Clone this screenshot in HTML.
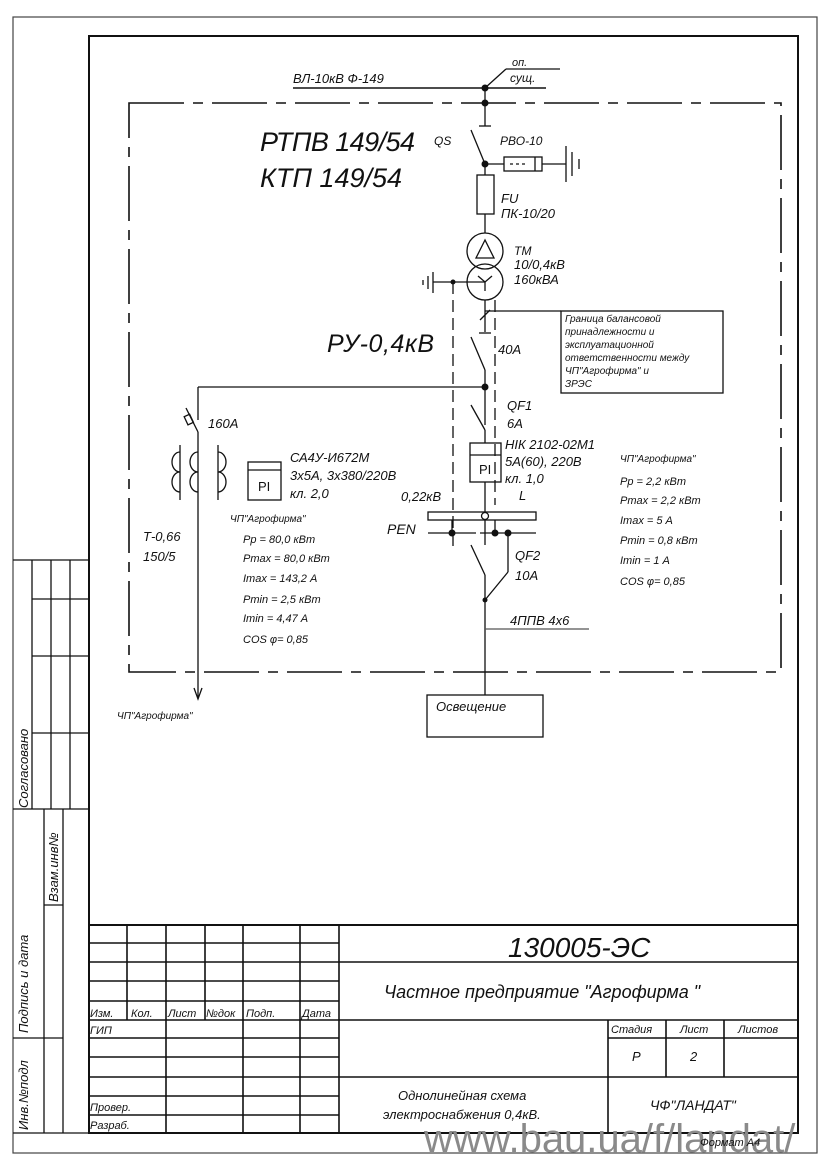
<!DOCTYPE html>
<html><head><meta charset="utf-8"><style>
html,body{margin:0;padding:0;background:#fff}
svg{display:block}
text{font-family:"Liberation Sans","DejaVu Sans",sans-serif;font-style:italic;fill:#111}
text.n{font-style:normal}
</style></head><body>
<svg width="828" height="1172" viewBox="0 0 828 1172" xmlns="http://www.w3.org/2000/svg">
<g stroke="#111" fill="none" stroke-width="1.3">
<rect x="13" y="17" width="804" height="1136" stroke="#444" stroke-width="1.2"/>
<rect x="89" y="36" width="709" height="1097" stroke-width="2"/>
<line x1="13" y1="560" x2="89" y2="560"/>
<line x1="32" y1="560" x2="32" y2="809"/>
<line x1="51" y1="560" x2="51" y2="809"/>
<line x1="70" y1="560" x2="70" y2="809"/>
<line x1="32" y1="599" x2="89" y2="599"/>
<line x1="32" y1="656" x2="89" y2="656"/>
<line x1="32" y1="733" x2="89" y2="733"/>
<line x1="13" y1="809" x2="89" y2="809"/>
<line x1="44" y1="809" x2="44" y2="1133"/>
<line x1="63" y1="809" x2="63" y2="1133"/>
<line x1="44" y1="905" x2="63" y2="905"/>
<line x1="13" y1="1038" x2="63" y2="1038"/>
<line x1="13" y1="1133" x2="89" y2="1133"/>
<line x1="89" y1="925" x2="798" y2="925" stroke-width="2"/>
<g stroke-width="1.6">
<line x1="89" y1="943" x2="339" y2="943"/>
<line x1="89" y1="962" x2="798" y2="962"/>
<line x1="89" y1="981" x2="339" y2="981"/>
<line x1="89" y1="1001" x2="339" y2="1001"/>
<line x1="89" y1="1020" x2="798" y2="1020"/>
<line x1="89" y1="1038" x2="339" y2="1038"/>
<line x1="608" y1="1038" x2="798" y2="1038"/>
<line x1="89" y1="1057" x2="339" y2="1057"/>
<line x1="89" y1="1077" x2="798" y2="1077"/>
<line x1="89" y1="1096" x2="339" y2="1096"/>
<line x1="89" y1="1115" x2="339" y2="1115"/>
<line x1="127" y1="925" x2="127" y2="1020"/>
<line x1="166" y1="925" x2="166" y2="1133"/>
<line x1="205" y1="925" x2="205" y2="1020"/>
<line x1="243" y1="925" x2="243" y2="1133"/>
<line x1="300" y1="925" x2="300" y2="1133"/>
<line x1="339" y1="925" x2="339" y2="1133"/>
<line x1="608" y1="1020" x2="608" y2="1133"/>
<line x1="666" y1="1020" x2="666" y2="1077"/>
<line x1="724" y1="1020" x2="724" y2="1077"/>
</g>
<rect x="129" y="103" width="652" height="569" stroke-width="1.6" stroke-dasharray="55 9 10 9"/>
<line x1="293" y1="88" x2="546" y2="88" stroke-width="1.6"/>
<line x1="485" y1="88" x2="506" y2="69"/>
<line x1="506" y1="69" x2="560" y2="69"/>
<line x1="485" y1="88" x2="485" y2="126"/>
<line x1="479" y1="126" x2="491" y2="126"/>
<line x1="471" y1="130" x2="485" y2="164"/>
<line x1="485" y1="164" x2="485" y2="175"/>
<line x1="485" y1="164" x2="504" y2="164"/>
<rect x="504" y="157" width="38" height="14"/>
<line x1="535" y1="157" x2="535" y2="171"/>
<line x1="510" y1="164" x2="528" y2="164" stroke-dasharray="3 3"/>
<line x1="542" y1="164" x2="566" y2="164"/>
<line x1="566" y1="146" x2="566" y2="182"/>
<line x1="572" y1="152" x2="572" y2="176"/>
<line x1="579" y1="159" x2="579" y2="169"/>
<rect x="477" y="175" width="17" height="39"/>
<line x1="485" y1="214" x2="485" y2="233"/>
<circle cx="485" cy="251" r="18"/>
<circle cx="485" cy="282" r="18"/>
<polygon points="485,240 476,258 494,258"/>
<line x1="485" y1="282" x2="485" y2="291"/><line x1="485" y1="282" x2="478" y2="276"/><line x1="485" y1="282" x2="492" y2="276"/>
<line x1="433" y1="282" x2="485" y2="282"/>
<line x1="433" y1="272" x2="433" y2="293"/><line x1="428" y1="276" x2="428" y2="289"/><line x1="423" y1="280" x2="423" y2="285"/>
<line x1="453" y1="282" x2="453" y2="548" stroke-dasharray="12 6"/>
<line x1="495" y1="300" x2="495" y2="505" stroke-dasharray="12 6"/>
<line x1="485" y1="300" x2="485" y2="332"/>
<line x1="480" y1="320" x2="490" y2="310"/>
<line x1="485" y1="311" x2="561" y2="311"/>
<rect x="561" y="311" width="162" height="82"/>
<line x1="479" y1="333" x2="491" y2="333"/>
<line x1="471" y1="337" x2="485" y2="370"/>
<line x1="485" y1="370" x2="485" y2="425"/>
<line x1="198" y1="387" x2="485" y2="387"/>
<line x1="198" y1="387" x2="198" y2="420"/>
<line x1="186" y1="408" x2="198" y2="432"/>
<rect x="186" y="415" width="6" height="9" transform="rotate(-25 189 420)"/>
<line x1="198" y1="432" x2="198" y2="697"/>
<polyline points="194,688 198,699 202,688"/>
<line x1="180" y1="445" x2="180" y2="500"/>
<line x1="218" y1="445" x2="218" y2="500"/>
<path d="M180 452 a8 10 0 0 0 0 20 a8 10 0 0 0 0 20"/>
<path d="M198 452 a8 10 0 0 0 0 20 a8 10 0 0 0 0 20"/>
<path d="M218 452 a8 10 0 0 1 0 20 a8 10 0 0 1 0 20"/>
<rect x="248" y="462" width="33" height="38"/>
<line x1="248" y1="470" x2="281" y2="470"/>
<line x1="471" y1="405" x2="485" y2="430"/>
<line x1="485" y1="430" x2="485" y2="443"/>
<rect x="470" y="443" width="31" height="39"/>
<line x1="470" y1="455" x2="501" y2="455"/>
<line x1="485" y1="482" x2="485" y2="512"/>
<rect x="428" y="512" width="108" height="8"/>
<circle cx="485" cy="516" r="3.5" fill="#fff"/>
<line x1="428" y1="533" x2="476" y2="533"/>
<line x1="480" y1="533" x2="536" y2="533"/>
<line x1="452" y1="520" x2="452" y2="533"/>
<line x1="495" y1="520" x2="495" y2="533"/>
<line x1="485" y1="520" x2="485" y2="545"/>
<line x1="508" y1="533" x2="508" y2="572"/>
<line x1="508" y1="572" x2="485" y2="600"/>
<line x1="471" y1="545" x2="485" y2="575"/>
<line x1="485" y1="575" x2="485" y2="695"/>
<line x1="485" y1="629" x2="589" y2="629" stroke="#555"/>
<rect x="427" y="695" width="116" height="42"/>
</g>
<g fill="#111">
<circle cx="485" cy="88" r="3.5"/><circle cx="485" cy="103" r="3.5"/><circle cx="485" cy="164" r="3.5"/>
<circle cx="453" cy="282" r="2.5"/><circle cx="485" cy="387" r="3.5"/>
<circle cx="452" cy="533" r="3.5"/><circle cx="495" cy="533" r="3.5"/><circle cx="508" cy="533" r="3.5"/>
<circle cx="485" cy="600" r="2.5"/>
</g>
<text x="293" y="83" font-size="13">ВЛ-10кВ Ф-149</text>
<text x="512" y="66" font-size="11">оп.</text>
<text x="510" y="82" font-size="12">сущ.</text>
<text x="260" y="151" font-size="27" textLength="155">РТПВ 149/54</text>
<text x="260" y="187" font-size="27" textLength="142">КТП 149/54</text>
<text x="434" y="145" font-size="12">QS</text>
<text x="500" y="145" font-size="12">РВО-10</text>
<text x="501" y="203" font-size="13">FU</text>
<text x="501" y="218" font-size="13">ПК-10/20</text>
<text x="514" y="255" font-size="12">ТМ</text>
<text x="514" y="269" font-size="13">10/0,4кВ</text>
<text x="514" y="284" font-size="13">160кВА</text>
<text x="565" y="322" font-size="10">Граница балансовой</text>
<text x="565" y="335" font-size="10">принадлежности и</text>
<text x="565" y="348" font-size="10">эксплуатационной</text>
<text x="565" y="361" font-size="10">ответственности между</text>
<text x="565" y="374" font-size="10">ЧП"Агрофирма" и</text>
<text x="565" y="387" font-size="10">ЗРЭС</text>
<text x="327" y="352" font-size="25" textLength="107">РУ-0,4кВ</text>
<text x="498" y="354" font-size="13">40А</text>
<text x="208" y="428" font-size="13">160А</text>
<text x="507" y="410" font-size="13">QF1</text>
<text x="507" y="428" font-size="13">6А</text>
<text x="505" y="449" font-size="13">НІК 2102-02М1</text>
<text x="505" y="466" font-size="13">5А(60), 220В</text>
<text x="505" y="483" font-size="13">кл. 1,0</text>
<text x="519" y="500" font-size="13">L</text>
<text x="401" y="501" font-size="13">0,22кВ</text>
<text x="387" y="534" font-size="14">PEN</text>
<text x="515" y="560" font-size="13">QF2</text>
<text x="515" y="580" font-size="13">10А</text>
<text x="510" y="625" font-size="13">4ППВ 4х6</text>
<text x="436" y="711" font-size="13">Освещение</text>
<text class="n" x="258" y="491" font-size="13">PI</text>
<text class="n" x="479" y="474" font-size="13">PI</text>
<text x="290" y="462" font-size="13">СА4У-И672М</text>
<text x="290" y="480" font-size="13">3х5А, 3х380/220В</text>
<text x="290" y="498" font-size="13">кл. 2,0</text>
<text x="230" y="522" font-size="10">ЧП"Агрофирма"</text>
<text x="143" y="541" font-size="13">Т-0,66</text>
<text x="143" y="561" font-size="13">150/5</text>
<g font-size="11">
<text x="243" y="543">Рр = 80,0 кВт</text>
<text x="243" y="562">Рmax = 80,0 кВт</text>
<text x="243" y="582">Imax = 143,2 А</text>
<text x="243" y="603">Рmin = 2,5 кВт</text>
<text x="243" y="622">Imin = 4,47 А</text>
<text x="243" y="643">COS φ= 0,85</text>
<text x="620" y="462" font-size="10">ЧП"Агрофирма"</text>
<text x="620" y="485">Рр = 2,2 кВт</text>
<text x="620" y="504">Рmax = 2,2 кВт</text>
<text x="620" y="524">Imax = 5 А</text>
<text x="620" y="544">Рmin = 0,8 кВт</text>
<text x="620" y="564">Imin = 1 А</text>
<text x="620" y="585">COS φ= 0,85</text>
</g>
<text x="117" y="719" font-size="10">ЧП"Агрофирма"</text>
<text transform="translate(28,808) rotate(-90)" font-size="13">Согласовано</text>
<text transform="translate(58,902) rotate(-90)" font-size="13">Взам.инв№</text>
<text transform="translate(28,1033) rotate(-90)" font-size="13">Подпись и дата</text>
<text transform="translate(28,1130) rotate(-90)" font-size="13">Инв.№подл</text>
<text x="508" y="957" font-size="28">130005-ЭС</text>
<text x="384" y="998" font-size="18">Частное предприятие "Агрофирма "</text>
<g font-size="11">
<text x="90" y="1017">Изм.</text><text x="131" y="1017">Кол.</text><text x="168" y="1017">Лист</text><text x="206" y="1017">№док</text><text x="246" y="1017">Подп.</text><text x="302" y="1017">Дата</text>
<text x="90" y="1034">ГИП</text>
<text x="90" y="1111">Провер.</text>
<text x="90" y="1129">Разраб.</text>
<text x="611" y="1033">Стадия</text><text x="680" y="1033">Лист</text><text x="738" y="1033">Листов</text>
</g>
<text x="632" y="1061" font-size="13">Р</text>
<text x="690" y="1061" font-size="13">2</text>
<text x="398" y="1100" font-size="13">Однолинейная схема</text>
<text x="383" y="1119" font-size="13">электроснабжения 0,4кВ.</text>
<text x="650" y="1110" font-size="14">ЧФ"ЛАНДАТ"</text>
<text class="n" x="424" y="1152" font-size="40" style="fill:#8a8a8a">www.bau.ua/f/landat/</text>
<text x="700" y="1146" font-size="11">Формат А4</text>
</svg>
</body></html>
